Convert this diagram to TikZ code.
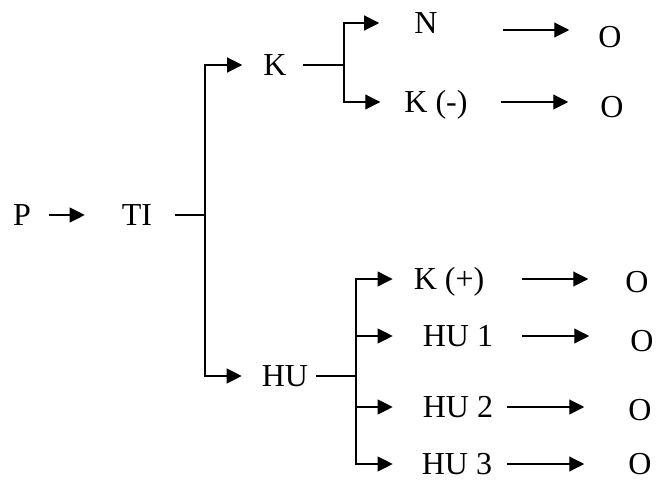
\documentclass[tikz,border=0pt]{standalone}
\usepackage{fontspec}
\setmainfont{Liberation Serif}
\usetikzlibrary{arrows.meta, positioning}

\begin{document}
\begin{tikzpicture}[x=1pt, y=-1pt,
    lbl/.style={font=\fontsize{32}{38}\selectfont, inner sep=0pt, text height=21pt, text depth=0pt},
    ln/.style={line width=1.1pt},
    arr/.style={line width=1.1pt, -{Triangle[length=15pt, width=15pt]}}]
    \useasboundingbox (0,0) rectangle (656,481);

    % P va TI
    \node[lbl] (P) at (22,215) {P};
    \node[lbl] (TI) at (137,215) {TI};
    \coordinate (j1) at (205,215); % diem re nhanh cua TI
    \draw[arr, shorten <=18pt, shorten >=37pt] (P) -- (TI); % P toi TI
    \draw[ln, shorten <=23pt] (TI) -- (j1);

    % K va HU
    \node[lbl] (K) at (275,65) {K};
    \node[lbl] (HU) at (285,376) {HU};
    \draw[arr, shorten >=21pt] (j1) |- (K); % len K
    \draw[arr, shorten >=20pt] (j1) |- (HU); % xuong HU

    % nhanh K
    \coordinate (j2) at (344,65);
    \node[lbl] (N) at (426,23) {N};
    \node[lbl] (Km) at (436,102) {K (-)};
    \draw[ln, shorten <=16pt] (K) -- (j2);
    \draw[arr, shorten >=35pt] (j2) |- (N);
    \draw[arr, shorten >=24pt] (j2) |- (Km);

    % O cua nhanh K
    \node[lbl] (O1) at (610,37) {O};
    \node[lbl] (O2) at (612,107) {O};
    \draw[arr, shorten <=65pt, shorten >=29pt] ([yshift=-7pt]N.east) -- ([yshift=-7pt]N.east -| O1.west);
    \draw[arr, shorten <=33pt, shorten >=32pt] (Km.east) -- (Km.east -| O2.west);

    % nhanh HU
    \coordinate (j3) at (356,376);
    \node[lbl] (Kp) at (449,279) {K (+)};
    \node[lbl] (HU1) at (458,336) {HU 1};
    \node[lbl] (HU2) at (458,407) {HU 2};
    \node[lbl] (HU3) at (457,464) {HU 3};
    \draw[ln, shorten <=8pt] (HU) -- (j3);
    \draw[arr, shorten >=21pt] (j3) |- (Kp);
    \draw[arr, shorten >=30pt] (j3) |- (HU1);
    \draw[arr, shorten >=30pt] (j3) |- (HU2);
    \draw[arr, shorten >=29pt] (j3) |- (HU3);

    % O cua nhanh HU
    \node[lbl] (O3) at (637,282) {O};
    \node[lbl] (O4) at (642,341) {O};
    \node[lbl] (O5) at (640,410) {O};
    \node[lbl] (O6) at (640,464) {O};
    \draw[arr, shorten <=38pt, shorten >=37pt] (Kp.east) -- (Kp.east -| O3.west);
    \draw[arr, shorten <=29pt, shorten >=41pt] (HU1.east) -- (HU1.east -| O4.west);
    \draw[arr, shorten <=14pt, shorten >=44pt] (HU2.east) -- (HU2.east -| O5.west);
    \draw[arr, shorten <=15pt, shorten >=44pt] (HU3.east) -- (HU3.east -| O6.west);
\end{tikzpicture}
\end{document}
